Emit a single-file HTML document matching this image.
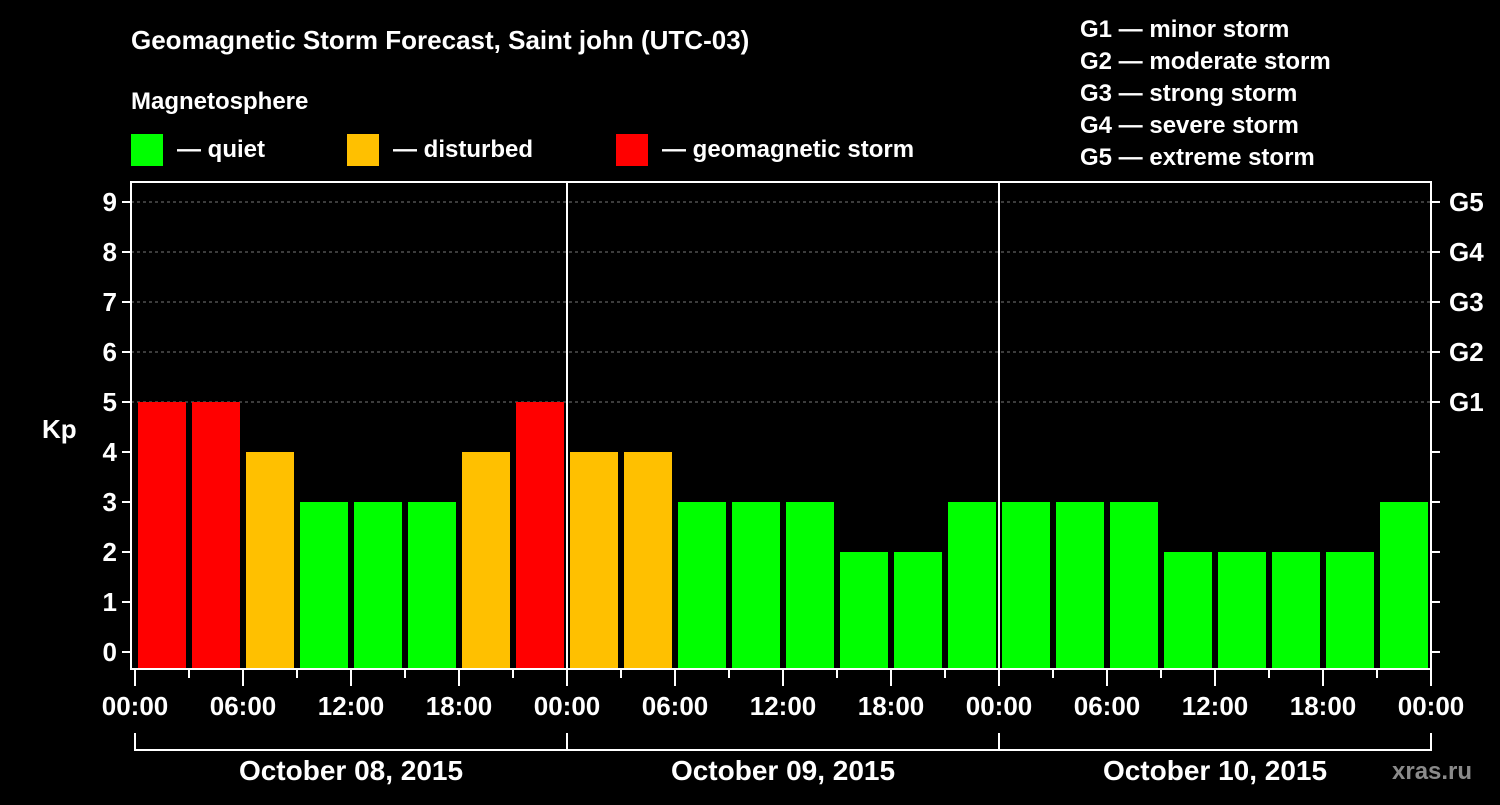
<!DOCTYPE html>
<html><head><meta charset="utf-8"><style>
body{margin:0;background:#000;width:1500px;height:800px;overflow:hidden;font-family:"Liberation Sans",sans-serif;}
svg text{font-family:"Liberation Sans",sans-serif;font-weight:bold;fill:#fff;}
</style></head><body>
<svg id="chart" width="1500" height="800" xmlns="http://www.w3.org/2000/svg">
<rect width="1500" height="800" fill="#000"/>
<text x="131" y="49" font-size="26">Geomagnetic Storm Forecast, Saint john (UTC-03)</text>
<text x="131" y="109" font-size="24">Magnetosphere</text>
<g>
<rect x="131" y="134" width="32" height="32" fill="#00ff00"/>
<text x="177" y="157" font-size="24">— quiet</text>
<rect x="347" y="134" width="32" height="32" fill="#ffc000"/>
<text x="393" y="157" font-size="24">— disturbed</text>
<rect x="616" y="134" width="32" height="32" fill="#ff0000"/>
<text x="662" y="157" font-size="24">— geomagnetic storm</text>
</g>
<g font-size="24">
<text x="1080" y="37">G1 — minor storm</text>
<text x="1080" y="69">G2 — moderate storm</text>
<text x="1080" y="101">G3 — strong storm</text>
<text x="1080" y="133">G4 — severe storm</text>
<text x="1080" y="165">G5 — extreme storm</text>
</g>
<text x="42" y="438" font-size="26">Kp</text>
<text x="1392" y="779" font-size="24" fill="#888" style="fill:#8a8a8a">xras.ru</text>
<g id="plot"></g>
</svg>
<script>
const kpValues=[5,5,4,3,3,3,4,5, 4,4,3,3,3,2,2,3, 3,3,3,2,2,2,2,3];
const yTicks=[0,1,2,3,4,5,6,7,8,9];
const gLabels=["G1","G2","G3","G4","G5"];
const hourLabels=["00:00","06:00","12:00","18:00"];
const dayLabels=["October 08, 2015","October 09, 2015","October 10, 2015"];
const NS="http://www.w3.org/2000/svg";
const g=document.getElementById('plot');
const L=131,R=1431,T=182,B=669,X0=135,SLOT=54;
const yS=v=>652-v*50;
const xS=i=>X0+i*SLOT;
function mk(tag,at){const e=document.createElementNS(NS,tag);for(const k in at)e.setAttribute(k,at[k]);g.appendChild(e);return e;}
function col(v){return v>=5?"#ff0000":v>=4?"#ffc000":"#00ff00";}
yTicks.forEach(v=>{
 if(v>=5){const l=mk('line',{x1:L,x2:R,y1:yS(v),y2:yS(v),stroke:'#777','stroke-dasharray':'3,3','stroke-width':1});
 
 }
 const t=mk('line',{x1:L-9,x2:L,y1:yS(v),y2:yS(v),stroke:'#fff','stroke-width':2});
 
 
 const t2=mk('line',{x1:R,x2:R+9,y1:yS(v),y2:yS(v),stroke:'#fff','stroke-width':2});
 
 
 const tx=mk('text',{x:L-14,y:yS(v)+9,'text-anchor':'end','font-size':26});
 tx.textContent=v;
 
 
});
gLabels.forEach((s,i)=>{
 const tx=mk('text',{x:R+18,y:yS(5+i)+9,'font-size':26});
 tx.textContent=s;
 
 
});
kpValues.forEach((v,i)=>{
 const r=mk('rect',{x:xS(i)+3,y:yS(v),width:48,height:B-yS(v),fill:col(v)});
 
 
});
const box=mk('rect',{x:L,y:T,width:R-L,height:B-T,fill:'none',stroke:'#fff','stroke-width':2});


for(let d=1;d<3;d++){const l=mk('line',{x1:xS(d*8),x2:xS(d*8),y1:T,y2:B,stroke:'#fff','stroke-width':2});
 
 }
for(let i=0;i<=24;i++){
 const major=i%2==0;
 const l=mk('line',{x1:xS(i),x2:xS(i),y1:B,y2:major?686:678,stroke:'#fff','stroke-width':2});
 
 
 if(major){const tx=mk('text',{x:xS(i),y:715,'text-anchor':'middle','font-size':26});
  tx.textContent=hourLabels[(i/2)%4];
  
  }
}
dayLabels.forEach((s,d)=>{
 const x1=xS(d*8),x2=xS(d*8+8);
 const p=mk('path',{d:`M${x1},733V750H${x2}`+(d==2?'V733':''),fill:'none',stroke:'#fff','stroke-width':2});
 
 
 const tx=mk('text',{x:(x1+x2)/2,y:780,'text-anchor':'middle','font-size':28});
 tx.textContent=s;
 
 
});
</script>
</body></html>
